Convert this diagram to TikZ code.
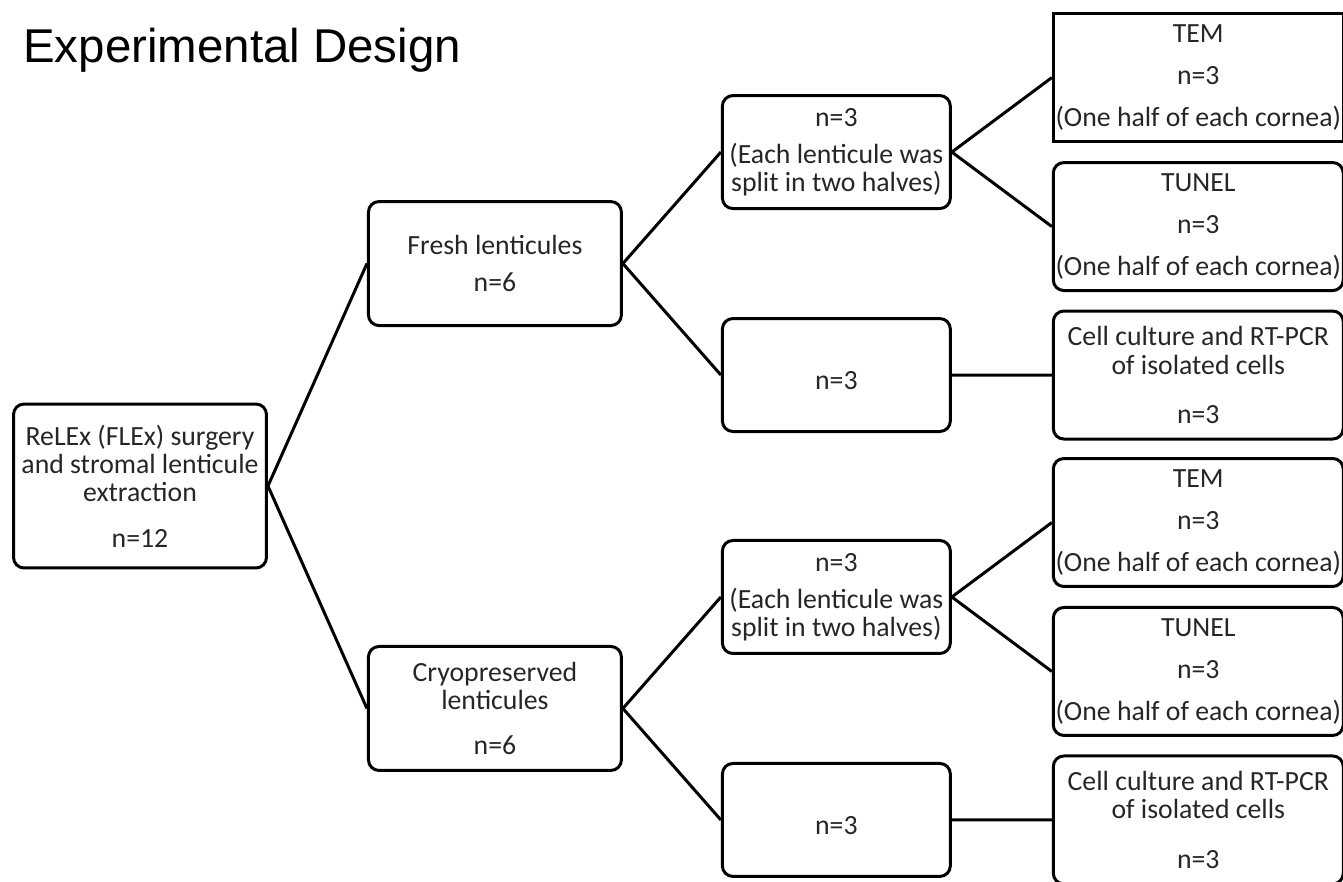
\documentclass[tikz,border=0pt]{standalone}
\usepackage{fontspec}
\setmainfont{Carlito}
\newfontfamily\titlefont{Liberation Sans}

\begin{document}
\begin{tikzpicture}
	[
	x=0.02cm, y=0.02cm,
	box/.style={rectangle,draw=black,line width=1.7pt,rounded corners=6pt,align=center,
		text=black!85,font=\fontsize{15.8}{16}\selectfont,inner sep=1pt,
		execute at begin node={\rule{0pt}{17pt}}},
	rootbox/.style={box,minimum width=5.06cm,minimum height=3.28cm},
	groupbox/.style={box,minimum width=5.06cm,minimum height=2.48cm},
	splitbox/.style={box,minimum width=4.56cm,minimum height=2.26cm},
	assaybox/.style={box,minimum width=5.8cm,minimum height=2.56cm},
	grow'=right,
	edge from parent/.style={draw=black,line width=1.7pt},
	edge from parent path={(\tikzparentnode.east) -- (\tikzchildnode.west)},
	level 1/.style={level distance=7.1cm,sibling distance=8.9cm},
	level 2/.style={level distance=6.83cm,sibling distance=4.46cm},
	level 3/.style={level distance=7.24cm,sibling distance=2.98cm},
	]
	\useasboundingbox (0,0) rectangle (1343,-882);
	\clip (0,0) rectangle (1343,-882);
	\node [anchor=base west,inner sep=0pt,font=\titlefont\fontsize{27}{32}\selectfont] (title) at (23,-63) {Experimental Design};
	\node [rootbox] (root) at (140,-486) {ReLEx (FLEx) surgery\\and stromal lenticule\\extraction\\[10pt]n=12}
	child {node [groupbox] (fresh) {Fresh lenticules\\[5pt]n=6}
		child {node [splitbox] (freshsplit) {n=3\\[5pt](Each lenticule was\\split in two halves)}
			child {node [assaybox,sharp corners] (freshtem) {TEM\\[8pt]n=3\\[8pt](One half of each cornea)}}
			child {node [assaybox] (freshtunel) {TUNEL\\[8pt]n=3\\[8pt](One half of each cornea)}}
		}
		child {node [splitbox] (freshcult) {n=3}
			child {node [assaybox] (freshpcr) {Cell culture and RT-PCR\\of isolated cells\\[12pt]n=3}}
		}
	}
	child {node [groupbox] (cryo) {Cryopreserved\\lenticules\\[10pt]n=6}
		child {node [splitbox] (cryosplit) {n=3\\[5pt](Each lenticule was\\split in two halves)}
			child {node [assaybox] (cryotem) {TEM\\[8pt]n=3\\[8pt](One half of each cornea)}}
			child {node [assaybox] (cryotunel) {TUNEL\\[8pt]n=3\\[8pt](One half of each cornea)}}
		}
		child {node [splitbox] (cryocult) {n=3}
			child {node [assaybox] (cryopcr) {Cell culture and RT-PCR\\of isolated cells\\[12pt]n=3}}
		}
	};
\end{tikzpicture}
\end{document}
